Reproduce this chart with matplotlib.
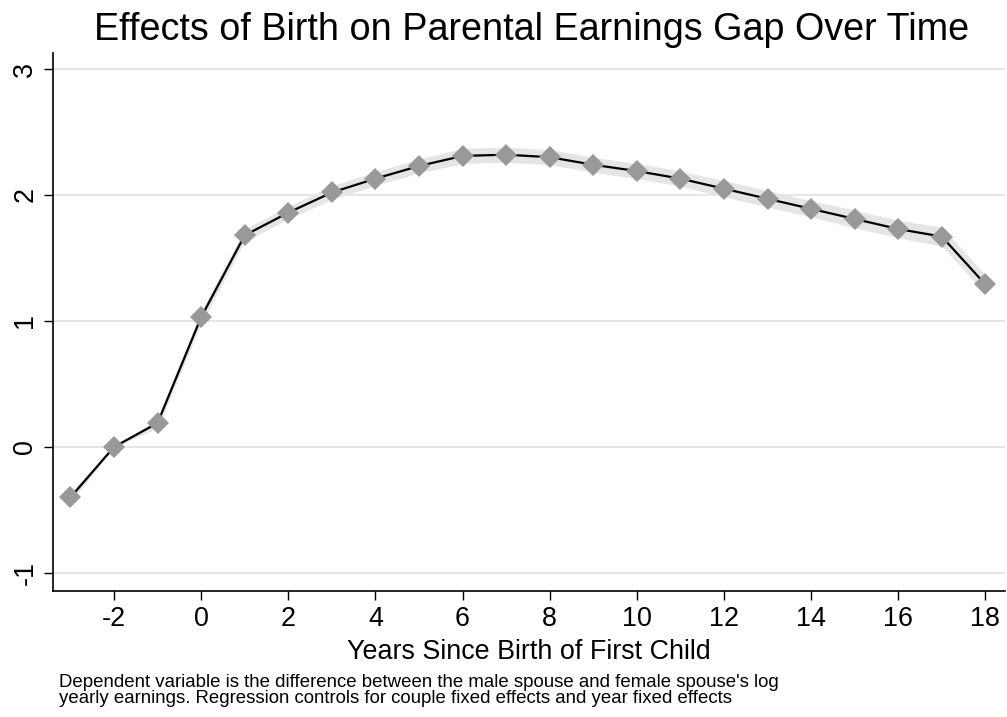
import matplotlib
matplotlib.use("Agg")
import matplotlib.pyplot as plt

plt.rcParams["font.family"] = ["Liberation Sans", "DejaVu Sans"]

# event-study estimates
years = [-3, -2, -1, 0, 1, 2, 3, 4, 5, 6, 7, 8, 9, 10, 11, 12, 13, 14, 15, 16, 17, 18]
coef = [-0.40, 0.00, 0.19, 1.03, 1.68, 1.86, 2.02, 2.13, 2.23, 2.31, 2.32, 2.30,
        2.24, 2.19, 2.13, 2.05, 1.97, 1.89, 1.81, 1.73, 1.67, 1.29]
ci_half = [0.04, 0.00, 0.04, 0.05, 0.05, 0.05, 0.055, 0.055, 0.055, 0.06, 0.06, 0.06,
           0.06, 0.06, 0.06, 0.065, 0.065, 0.065, 0.07, 0.07, 0.075, 0.075]

yticks = [-1, 0, 1, 2, 3]
xticks = list(range(-2, 19, 2))

title = "Effects of Birth on Parental Earnings Gap Over Time"
xlabel = "Years Since Birth of First Child"
note = ("Dependent variable is the difference between the male spouse and female spouse's log\n"
        "yearly earnings. Regression controls for couple fixed effects and year fixed effects")

W, H = 1007, 717
fig = plt.figure(figsize=(W / 100, H / 100), dpi=100)
ax = fig.add_axes([53 / W, (H - 591) / H, (1005 - 53) / W, (591 - 53) / H])

lo = [c - h for c, h in zip(coef, ci_half)]
hi = [c + h for c, h in zip(coef, ci_half)]
ax.fill_between(years, lo, hi, color="#e5e5e5", linewidth=0, zorder=1)
ax.plot(years, coef, color="black", linewidth=1.6, zorder=2)
ax.plot(years, coef, linestyle="none", marker="D", markersize=11,
        color="#999999", markeredgewidth=0, zorder=3)

ax.set_xlim(-3.4, 18.45)
ax.set_ylim(-1.143, 3.127)
ax.set_yticks(yticks)
ax.set_yticklabels([str(v) for v in yticks], rotation=90, va="center")
ax.set_xticks(xticks)
ax.set_xticklabels([str(v) for v in xticks])
ax.tick_params(axis="both", labelsize=19.4, length=6.5, width=1, color="black", pad=4)
ax.grid(axis="y", color="#e6e6e6", linewidth=1.5)
ax.set_axisbelow(True)
for side in ["top", "right"]:
    ax.spines[side].set_visible(False)
for side in ["left", "bottom"]:
    ax.spines[side].set_linewidth(1.2)

ax.set_xlabel(xlabel, fontsize=19.4, labelpad=5)
fig.text(532 / W, 1 - 40 / H, title, fontsize=27.2, ha="center", va="baseline")
fig.text(59 / W, 1 - 703 / H, note, fontsize=13.4, ha="left", va="baseline", linespacing=0.9)

fig.savefig("out.png", dpi=100)
